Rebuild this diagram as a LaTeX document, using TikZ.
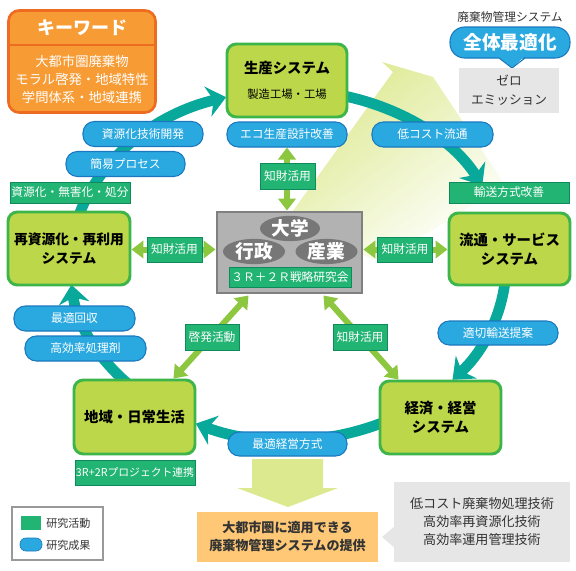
\documentclass[tikz,border=0pt]{standalone}
\usepackage{fontspec}
\setmainfont{Noto Sans CJK JP}
\usetikzlibrary{arrows.meta,shapes.geometric,calc}
\pgfdeclarelayer{back}
\pgfdeclarelayer{mid}
\pgfsetlayers{back,mid,main}
\definecolor{gfill}{HTML}{BCD749}
\definecolor{gline}{HTML}{3DB54A}
\definecolor{ringteal}{HTML}{08A89A}
\definecolor{pillfill}{HTML}{29A9E0}
\definecolor{pillline}{HTML}{1B78BE}
\definecolor{labfill}{HTML}{22B473}
\definecolor{labline}{HTML}{0F8A5C}
\definecolor{lgreen}{HTML}{8DC63F}
\definecolor{cgray}{HTML}{B2B2B2}
\definecolor{cgrayline}{HTML}{808080}
\definecolor{ellgray}{HTML}{777777}
\definecolor{kwfill}{HTML}{F79B34}
\definecolor{kwline}{HTML}{EE6B22}
\definecolor{orangebox}{HTML}{FFC876}
\definecolor{lightgrey}{HTML}{E6E6E6}
\definecolor{biglight}{HTML}{DCE98E}
\definecolor{darktext}{HTML}{333333}
\definecolor{legline}{HTML}{999999}
\begin{document}
\begin{tikzpicture}[x=0.75pt,y=-0.75pt,
  sz/.style 2 args={minimum width=#1*0.75pt, minimum height=#2*0.75pt},
  gbox/.style={draw=gline, fill=gfill, line width=2.2pt, rounded corners=7pt, inner sep=0pt, align=center, text=black, font=\bfseries\fontsize{10.8}{14.5}\selectfont},
  pill/.style={draw=pillline, fill=pillfill, line width=0.8pt, rounded corners=8.5pt, inner sep=0pt, text=white, font=\fontsize{8.8}{10}\selectfont},
  glabel/.style={draw=labline, fill=labfill, line width=0.6pt, inner sep=0pt, text=white, font=\fontsize{8.8}{10}\selectfont},
  ell/.style={ellipse, fill=ellgray, inner sep=0pt, text=white, font=\bfseries\fontsize{14}{16}\selectfont},
  tarrow/.style={draw=ringteal, line width=8pt, -{Stealth[length=14pt,width=23pt,inset=4.5pt]}},
  garrow/.style={draw=lgreen, line width=4.5pt, {Triangle[length=9pt,width=13pt]}-{Triangle[length=9pt,width=13pt]}},
  plaintext/.style={inner sep=0pt, text=darktext, align=center},
]
\useasboundingbox (0,0) rectangle (576,571);

% big background arrow
\begin{pgfonlayer}{back}
\fill[white] (0,0) rectangle (576,571);
\shade[top color=biglight, middle color=biglight!80, bottom color=white, shading angle=38]
  (382,62) -- (433,77) -- (505,185) -- (380,262) -- (285,222) -- (393,72) -- cycle;
\end{pgfonlayer}

% ring of teal arrows
\coordinate (ringc) at (288,265);
\begin{pgfonlayer}{mid}
\draw[tarrow] ($(ringc)+(190:218 and 175)$) arc[start angle=190, end angle=253.5, x radius=218, y radius=175];
\draw[tarrow] ($(ringc)+(280:218 and 175)$) arc[start angle=280, end angle=333, x radius=218, y radius=175];
\draw[tarrow] ($(ringc)+(5:218 and 175)$) arc[start angle=5, end angle=41, x radius=218, y radius=175];
\draw[tarrow] ($(ringc)+(60:218 and 175)$) arc[start angle=60, end angle=115, x radius=218, y radius=175];
\draw[tarrow] ($(ringc)+(130:218 and 175)$) arc[start angle=130, end angle=173.5, x radius=218, y radius=175];
\end{pgfonlayer}

% keyword box
\node[draw=kwline, fill=kwfill, line width=2pt, rounded corners=8pt, sz={147}{102}, inner sep=0pt] (kw) at (82,61.5) {};
\node[text=white, inner sep=0pt, font=\bfseries\fontsize{13.5}{15}\selectfont] (kwtitle) at (82,28) {キーワード};
\draw[kwline, line width=1pt] (kw.west |- 0,45) -- (kw.east |- 0,45);
\node[text=white, inner sep=0pt, align=center, font=\fontsize{10}{13.5}\selectfont] (kwtext) at (82,79) {大都市圏廃棄物\\モラル啓発・地域特性\\学問体系・地域連携};

% top right
\node[plaintext, font=\fontsize{8.8}{10}\selectfont] (haiki) at (510,17) {廃棄物管理システム};
\node[pill, sz={120}{31}, rounded corners=11pt, font=\bfseries\fontsize{14}{16}\selectfont] (zentai) at (510,42.5) {全体最適化};
\fill[pillfill] (497,56) -- (525,56) -- (512,68) -- cycle;
\draw[pillline, line width=0.8pt] (499,58) -- (512,68) -- (525,58);
\node[fill=lightgrey, sz={100}{45}, plaintext, font=\fontsize{9.5}{14}\selectfont] (zero) at (509,90.5) {ゼロ\\エミッション};

% main system boxes
\node[gbox, sz={120}{73}] (seisan) at (287,80.5) {生産システム\\[4pt]{\mdseries\fontsize{8.5}{10}\selectfont 製造工場・工場}};
\node[gbox, sz={121}{72}] (ryutsu) at (509.5,249) {流通・サービス\\システム};
\node[gbox, sz={121}{73}] (keizai) at (440.5,417.5) {経済・経営\\システム};
\node[gbox, sz={121}{74}] (chiiki) at (134.5,417) {地域・日常生活};
\node[gbox, sz={122}{73}, font=\bfseries\fontsize{10.3}{14.5}\selectfont] (saishigen) at (69,248.5) {再資源化・再利用\\システム};

% center box
\node[draw=cgrayline, fill=cgray, line width=2.2pt, sz={145}{81}, inner sep=0pt] (center) at (289.5,252.5) {};
\node[ell, sz={60}{24}] (daigaku) at (290,228.5) {大学};
\node[ell, sz={62}{24}] (gyosei) at (254,251.5) {行政};
\node[ell, sz={62}{24}] (sangyo) at (326.5,251.5) {産業};
\node[glabel, sz={122}{20}] (senryaku) at (290,277) {３Ｒ＋２Ｒ戦略研究会};

% research results (pills)
\node[pill, sz={120}{25}] (shigenka) at (143,134) {資源化技術開発};
\node[pill, sz={119}{25}] (kani) at (125.5,164) {簡易プロセス};
\node[pill, sz={120}{25}] (eco) at (287,134.5) {エコ生産設計改善};
\node[pill, sz={121}{25}] (lowcost) at (432.5,134.5) {低コスト流通};
\node[pill, sz={120}{24}] (tekisetsu) at (498,333) {適切輸送提案};
\node[pill, sz={121}{25}] (kaishu) at (74.5,318.5) {最適回収};
\node[pill, sz={121}{25}] (koritsu) at (85.5,348.5) {高効率処理剤};
\node[pill, sz={119}{24}] (keiei) at (287.5,444) {最適経営方式};

% research activities (green labels)
\node[glabel, sz={120}{21}] (shobun) at (70,192.5) {資源化・無害化・処分};
\node[glabel, sz={120}{21}] (yuso) at (509,192.5) {輸送方式改善};
\node[glabel, sz={55}{26}] (chizai1) at (287.5,176.5) {知財活用};
\node[glabel, sz={55}{25}] (chizai2) at (174.5,249.5) {知財活用};
\node[glabel, sz={55}{25}] (chizai3) at (405,249.5) {知財活用};
\node[glabel, sz={54}{26}] (keihatsu) at (212,337) {啓発活動};
\node[glabel, sz={54}{26}] (chizai4) at (360,337) {知財活用};
\node[glabel, sz={120}{25}, font=\fontsize{8.1}{10}\selectfont] (project) at (135,472.5) {3R+2Rプロジェクト連携};

% green double arrows
\begin{pgfonlayer}{mid}
\draw[garrow] (eco.south) -- (eco.south |- center.north);
\draw[garrow] (saishigen.east |- chizai2) -- (center.west |- chizai2);
\draw[garrow] (center.east |- chizai3) -- (ryutsu.west |- chizai3);
\draw[garrow] ($(center.south west)+(33,1)$) -- ($(chiiki.north east)+(-23,0)$);
\draw[garrow] ($(center.south east)+(-40,1)$) -- ($(keizai.north west)+(20,0)$);
\end{pgfonlayer}

% bottom
\fill[biglight] (252,459) -- (323,459) -- (323,488) -- (338,488) -- (288,507) -- (237,488) -- (252,488) -- cycle;
\node[fill=orangebox, sz={181}{50}, plaintext, font=\bfseries\fontsize{9.8}{13.5}\selectfont] (teikyo) at (287.5,537) {大都市圏に適用できる\\廃棄物管理システムの提供};
\fill[lightgrey] (395,526) -- (382,537) -- (395,548) -- cycle;
\node[fill=lightgrey, sz={176}{80}, plaintext, font=\fontsize{9.8}{13.5}\selectfont] (gijutsu) at (482,522) {低コスト廃棄物処理技術\\高効率再資源化技術\\高効率運用管理技術};

% legend
\node[draw=legline, fill=white, line width=0.8pt, sz={91}{53}, inner sep=0pt] (legend) at (57.5,533.5) {};
\node[fill=labfill, sz={20}{14}, inner sep=0pt] (legg) at (31,523) {};
\node[fill=pillfill, draw=pillline, line width=0.5pt, rounded corners=4.5pt, sz={22}{13}, inner sep=0pt] (legb) at (31,544.5) {};
\node[plaintext, anchor=west, font=\fontsize{8.3}{10}\selectfont] (legtxt1) at (46,523) {研究活動};
\node[plaintext, anchor=west, font=\fontsize{8.3}{10}\selectfont] (legtxt2) at (46,545) {研究成果};
\end{tikzpicture}
\end{document}
